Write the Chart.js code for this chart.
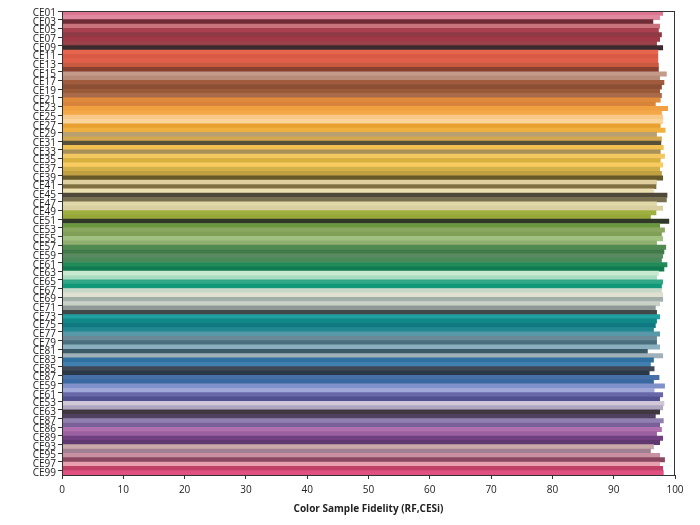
<!DOCTYPE html>
<html>
<head>
<meta charset="utf-8">
<script src="https://cdn.jsdelivr.net/npm/chart.js@4"></script>
<style>
  html, body { margin: 0; padding: 0; background: #fff; }
  #wrap { width: 700px; height: 525px; }
</style>
</head>
<body>
<div id="wrap"><canvas id="fidelityChart" width="700" height="525"></canvas></div>
<script>
// tick labels shown on the y axis (every other bar)
const tickLabels = [
  'CE01','CE03','CE05','CE07','CE09','CE11','CE13','CE15','CE17','CE19',
  'CE21','CE23','CE25','CE27','CE29','CE31','CE33','CE35','CE37','CE39',
  'CE41','CE45','CE47','CE49','CE51','CE53','CE55','CE57','CE59','CE61',
  'CE63','CE65','CE67','CE69','CE71','CE73','CE75','CE77','CE79','CE81',
  'CE83','CE85','CE87','CE59','CE61','CE53','CE63','CE87','CE86','CE89',
  'CE93','CE95','CE97','CE99'
];

// fidelity values, one per bar, top to bottom
const fidelity = [
  98.0, 97.5, 96.4, 97.5, 97.3, 97.8, 97.5, 97.0, 98.0, 97.2,
  97.2, 97.2, 97.3, 97.3, 98.6, 97.5, 98.2, 97.8, 97.5, 97.8,
  97.6, 96.8, 98.8, 97.8, 98.0, 98.0, 97.6, 98.4, 97.0, 97.8,
  97.7, 98.1, 97.6, 98.3, 97.6, 98.0, 97.5, 97.8, 98.0, 97.0,
  96.9, 96.5, 98.7, 98.6, 97.0, 98.0, 96.9, 96.0, 99.0, 97.5,
  98.3, 97.8, 98.0, 97.0, 98.5, 98.2, 98.0, 97.8, 98.7, 98.2,
  97.3, 97.0, 98.0, 97.8, 97.8, 98.0, 98.0, 97.5, 96.8, 97.0,
  97.5, 97.0, 96.8, 96.5, 97.5, 97.0, 97.0, 97.5, 95.5, 98.0,
  96.5, 96.0, 96.6, 95.8, 97.4, 96.5, 98.3, 96.6, 98.0, 97.5,
  98.2, 98.0, 97.5, 96.8, 98.1, 97.5, 97.8, 97.0, 98.0, 97.5,
  96.5, 96.0, 97.5, 98.3, 97.5, 98.0, 98.1
];

// sample colours, one per bar
const sampleColors = [
  '#dc7592','#e08aa0','#6e2a35','#c9737d','#a8404f','#8e3a45','#a03848','#9a4048','#3a2c2e','#e8664e',
  '#d85a44','#e0604a','#c85a40','#8a4030','#c49a88','#b88a78','#a05a3c','#8a4e34','#9a5a3a','#a86a48',
  '#e08a3c','#d8843a','#f0a040','#f4a848','#f8c888','#fad49a','#e8a030','#f0b040','#b8a070','#d4a850',
  '#585038','#f0c050','#a89058','#f4c860','#d8b040','#f8cc60','#d4b048','#c0a040','#685a28','#e0d0a0',
  '#807040','#ece0b0','#504838','#787050','#e0d8a8','#d8d0a0','#a0b040','#98a838','#303828','#6a9840',
  '#8aa860','#80a058','#a0c080','#90b070','#508a50','#407a48','#5a8a60','#4a8a5a','#208a58','#107a50',
  '#c8e8d0','#a8dcc0','#30a888','#109878','#c8d8c8','#e0e0d0','#a0b0a8','#c8d0c8','#909898','#404848',
  '#20a0a0','#108888','#107880','#208890','#5898a8','#6a8a98','#4a7080','#8ab0c0','#3a5a68','#a0b0b8',
  '#3070a0','#4080b0','#404858','#283848','#4870a8','#3a68a0','#8090c8','#a0a8d8','#6868a8','#505090',
  '#d0c8d8','#b0a8c0','#403840','#504060','#9080b0','#7a6098','#b070b0','#9a60a0','#704080','#603870',
  '#c8a8a8','#a08090','#c890a0','#8a4860','#e8a0b0','#c04068','#e05080'
];

const xTicks = [0, 10, 20, 30, 40, 50, 60, 70, 80, 90, 100];

// categories: every even bar gets a shown label
const categories = fidelity.map(function (v, i) {
  return i % 2 === 0 ? tickLabels[i / 2] : '';
});

// frame around plot area (top/right borders)
const frame = {
  id: 'frame',
  afterDraw: function (chart) {
    const a = chart.chartArea;
    const ctx = chart.ctx;
    ctx.save();
    ctx.strokeStyle = '#333';
    ctx.lineWidth = 1;
    ctx.strokeRect(a.left + 0.5, a.top + 0.5, a.right - a.left - 1, a.bottom - a.top);
    ctx.restore();
  }
};

new Chart(document.getElementById('fidelityChart'), {
  type: 'bar',
  data: {
    labels: categories,
    datasets: [{
      data: fidelity,
      backgroundColor: sampleColors,
      borderWidth: 0,
      barPercentage: 1.0,
      categoryPercentage: 1.0
    }]
  },
  options: {
    indexAxis: 'y',
    responsive: false,
    animation: false,
    layout: { padding: { top: 11, right: 25, bottom: 6, left: 0 } },
    plugins: {
      legend: { display: false },
      tooltip: { enabled: false }
    },
    scales: {
      x: {
        min: 0,
        max: 100,
        afterBuildTicks: function (scale) {
          scale.ticks = xTicks.map(function (v) { return { value: v }; });
        },
        afterFit: function (scale) { scale.height = 44; },
        grid: { drawOnChartArea: false, drawTicks: true, tickLength: 4, color: '#333' },
        border: { display: true, color: '#333' },
        ticks: {
          color: '#222',
          padding: 5,
          maxRotation: 0,
          font: { family: 'Open Sans', size: 10 }
        },
        title: {
          display: true,
          text: 'Color Sample Fidelity (RF,CESi)',
          color: '#222',
          padding: { top: 4 },
          font: { family: 'Open Sans', size: 10, weight: 'bold' }
        }
      },
      y: {
        afterFit: function (scale) { scale.width = 62; },
        grid: {
          drawOnChartArea: false,
          drawTicks: true,
          tickLength: 4,
          tickColor: function (c) { return c.index % 2 === 0 ? '#333' : 'rgba(0,0,0,0)'; }
        },
        border: { display: true, color: '#333' },
        ticks: {
          autoSkip: false,
          color: '#222',
          padding: 2,
          font: { family: 'Open Sans', size: 10 }
        }
      }
    }
  },
  plugins: [frame]
});
</script>
</body>
</html>
